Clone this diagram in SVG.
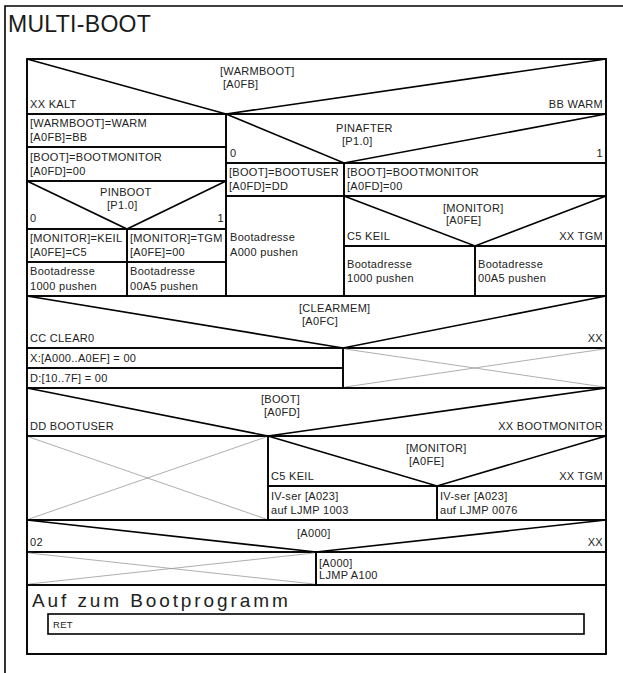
<svg xmlns="http://www.w3.org/2000/svg" width="623" height="673" viewBox="0 0 623 673">
<style>
.bg{fill:#fff}
.b{fill:none;stroke:#000;stroke-width:1.6}
.l{stroke:#000;stroke-width:1.6;fill:none}
.x{stroke:#999;stroke-width:0.8;fill:none}
text{font-family:"Liberation Sans",Arial,sans-serif;font-size:11px;fill:#222;letter-spacing:0.3px}
.r{text-anchor:end}
.t{font-size:23px;fill:#1a1a1a}
.a{font-size:19px;letter-spacing:2.9px}
.s{font-size:9.5px}
</style>
<rect class="bg" width="623" height="673"/>
<g id="frame">
<path class="l" d="M5,673 V6 H623"/>
<text class="t" x="8" y="32">MULTI-BOOT</text>
<rect class="b" x="27" y="59" width="579" height="595"/>
</g>
<g id="n_warmboot">
<rect class="b" x="27" y="59" width="579" height="55"/>
<path class="l" d="M27,59 L226,114 L606,59"/>
<text x="220" y="75">[WARMBOOT]</text>
<text x="223" y="88">[A0FB]</text>
<text x="30" y="108">XX KALT</text>
<text class="r" x="603" y="108">BB WARM</text>
</g>
<g id="n_set_warm">
<rect class="b" x="27" y="114" width="199" height="33"/>
<text x="30" y="127">[WARMBOOT]=WARM</text>
<text x="30" y="141">[A0FB]=BB</text>
</g>
<g id="n_set_bootmon">
<rect class="b" x="27" y="147" width="199" height="34"/>
<text x="30" y="161">[BOOT]=BOOTMONITOR</text>
<text x="30" y="175">[A0FD]=00</text>
</g>
<g id="n_pinboot">
<rect class="b" x="27" y="181" width="199" height="48"/>
<path class="l" d="M27,181 L127,229 L226,181"/>
<text x="100" y="196">PINBOOT</text>
<text x="107" y="209">[P1.0]</text>
<text x="30" y="222">0</text>
<text class="r" x="224" y="222">1</text>
</g>
<g id="n_mon_keil">
<rect class="b" x="27" y="229" width="100" height="33"/>
<text x="30" y="242">[MONITOR]=KEIL</text>
<text x="30" y="256">[A0FE]=C5</text>
</g>
<g id="n_mon_tgm">
<rect class="b" x="127" y="229" width="99" height="33"/>
<text x="130" y="242">[MONITOR]=TGM</text>
<text x="130" y="256">[A0FE]=00</text>
</g>
<g id="n_push1000_l">
<rect class="b" x="27" y="262" width="100" height="34"/>
<text x="30" y="275">Bootadresse</text>
<text x="30" y="290">1000 pushen</text>
</g>
<g id="n_push00a5_l">
<rect class="b" x="127" y="262" width="99" height="34"/>
<text x="130" y="275">Bootadresse</text>
<text x="130" y="290">00A5 pushen</text>
</g>
<g id="n_pinafter">
<rect class="b" x="226" y="114" width="380" height="49"/>
<path class="l" d="M226,114 L344,163 L606,114"/>
<text x="336" y="132">PINAFTER</text>
<text x="342" y="145">[P1.0]</text>
<text x="230" y="157">0</text>
<text class="r" x="603" y="157">1</text>
</g>
<g id="n_bootuser">
<rect class="b" x="226" y="163" width="118" height="33"/>
<text x="229" y="176">[BOOT]=BOOTUSER</text>
<text x="229" y="190">[A0FD]=DD</text>
</g>
<g id="n_bootmon2">
<rect class="b" x="344" y="163" width="262" height="33"/>
<text x="347" y="176">[BOOT]=BOOTMONITOR</text>
<text x="347" y="190">[A0FD]=00</text>
</g>
<g id="n_pushA000">
<rect class="b" x="226" y="196" width="118" height="100"/>
<text x="230" y="241">Bootadresse</text>
<text x="230" y="256">A000 pushen</text>
</g>
<g id="n_monitor1">
<rect class="b" x="344" y="196" width="262" height="50"/>
<path class="l" d="M344,196 L475,246 L606,196"/>
<text x="443" y="212">[MONITOR]</text>
<text x="446" y="224">[A0FE]</text>
<text x="347" y="240">C5 KEIL</text>
<text class="r" x="603" y="240">XX TGM</text>
</g>
<g id="n_push1000_r">
<rect class="b" x="344" y="246" width="131" height="50"/>
<text x="347" y="268">Bootadresse</text>
<text x="347" y="282">1000 pushen</text>
</g>
<g id="n_push00a5_r">
<rect class="b" x="475" y="246" width="131" height="50"/>
<text x="478" y="268">Bootadresse</text>
<text x="478" y="282">00A5 pushen</text>
</g>
<g id="n_clearmem">
<rect class="b" x="27" y="296" width="579" height="52"/>
<path class="l" d="M27,296 L343,348 L606,296"/>
<text x="299" y="312">[CLEARMEM]</text>
<text x="302" y="325">[A0FC]</text>
<text x="30" y="342">CC CLEAR0</text>
<text class="r" x="603" y="342">XX</text>
</g>
<g id="n_clearx">
<rect class="b" x="27" y="348" width="316" height="20"/>
<text x="30" y="362">X:[A000..A0EF] = 00</text>
</g>
<g id="n_cleard">
<rect class="b" x="27" y="368" width="316" height="20"/>
<text x="30" y="382">D:[10..7F] = 00</text>
</g>
<g id="n_empty1">
<rect class="b" x="343" y="348" width="263" height="40"/>
<path class="x" d="M345,349 L604,387 M345,387 L604,349"/>
</g>
<g id="n_boot">
<rect class="b" x="27" y="388" width="579" height="48"/>
<path class="l" d="M27,388 L268,436 L606,388"/>
<text x="261" y="403">[BOOT]</text>
<text x="264" y="416">[A0FD]</text>
<text x="30" y="430">DD BOOTUSER</text>
<text class="r" x="603" y="430">XX BOOTMONITOR</text>
</g>
<g id="n_empty2">
<rect class="b" x="27" y="436" width="241" height="84"/>
<path class="x" d="M29,437 L266,519 M29,519 L266,437"/>
</g>
<g id="n_monitor2">
<rect class="b" x="268" y="436" width="338" height="50"/>
<path class="l" d="M268,436 L437,486 L606,436"/>
<text x="406" y="452">[MONITOR]</text>
<text x="409" y="465">[A0FE]</text>
<text x="271" y="480">C5 KEIL</text>
<text class="r" x="603" y="480">XX TGM</text>
</g>
<g id="n_ivser1">
<rect class="b" x="268" y="486" width="169" height="34"/>
<text x="271" y="500">IV-ser [A023]</text>
<text x="271" y="514">auf LJMP 1003</text>
</g>
<g id="n_ivser2">
<rect class="b" x="437" y="486" width="169" height="34"/>
<text x="440" y="500">IV-ser [A023]</text>
<text x="440" y="514">auf LJMP 0076</text>
</g>
<g id="n_a000">
<rect class="b" x="27" y="520" width="579" height="32"/>
<path class="l" d="M27,520 L316,552 L606,520"/>
<text x="297" y="537">[A000]</text>
<text x="30" y="546">02</text>
<text class="r" x="603" y="546">XX</text>
</g>
<g id="n_empty3">
<rect class="b" x="27" y="552" width="289" height="33"/>
<path class="x" d="M29,553 L314,584 M29,584 L314,553"/>
</g>
<g id="n_ljmp">
<rect class="b" x="316" y="552" width="290" height="33"/>
<text x="319" y="567">[A000]</text>
<text x="319" y="579">LJMP A100</text>
</g>
<g id="n_auf">
<rect class="b" x="27" y="585" width="579" height="69"/>
<text class="a" x="32" y="607">Auf zum Bootprogramm</text>
</g>
<g id="n_ret">
<rect class="b" x="48" y="614" width="536" height="20"/>
<text class="s" x="53" y="628">RET</text>
</g>
<g id="connectors"/>
</svg>
